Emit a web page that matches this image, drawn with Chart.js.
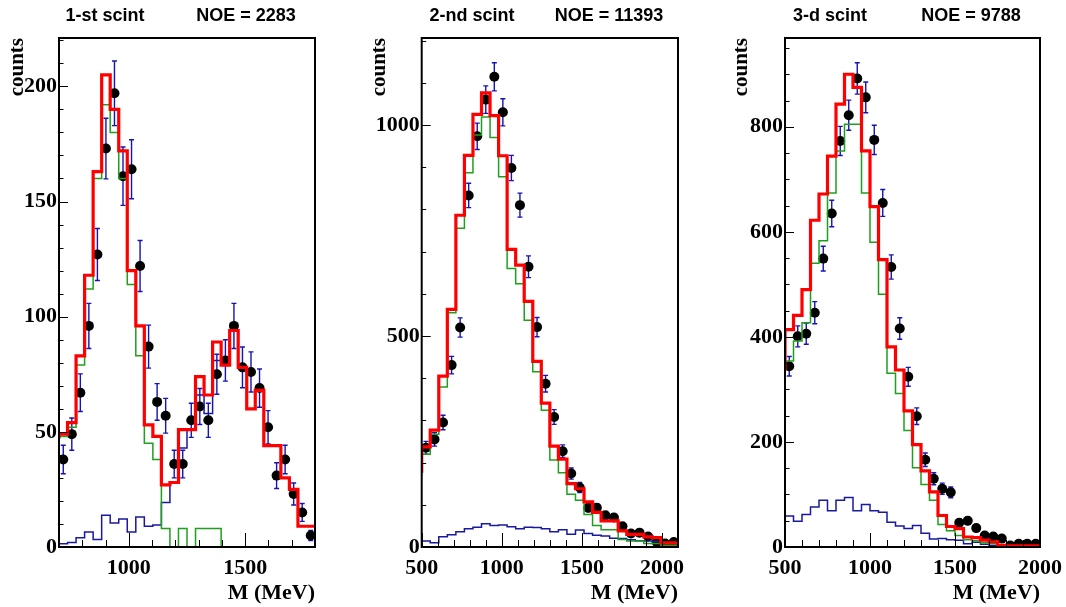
<!DOCTYPE html>
<html>
<head>
<meta charset="utf-8">
<script src="https://cdn.jsdelivr.net/npm/chart.js@4.4.0/dist/chart.umd.min.js"></script>
<style>
  body { margin: 0; background: #fff; }
  #wrap { position: relative; width: 1066px; height: 607px; overflow: hidden; }
  canvas { position: absolute; top: 0; }
  .ttl { position: absolute; top: 6px; font: bold 18px "Liberation Sans", Arial, sans-serif;
         line-height: 18px; white-space: nowrap; transform: translateX(-50%); color: #000; }
</style>
</head>
<body>
<div id="wrap">
  <canvas id="c1" width="355" height="607" style="left:0px"></canvas>
  <canvas id="c2" width="355" height="607" style="left:355px"></canvas>
  <canvas id="c3" width="356" height="607" style="left:710px"></canvas>
  <div class="ttl" style="left:105px">1-st scint</div>
  <div class="ttl" style="left:246px">NOE = 2283</div>
  <div class="ttl" style="left:472px">2-nd scint</div>
  <div class="ttl" style="left:609px">NOE = 11393</div>
  <div class="ttl" style="left:830px">3-d scint</div>
  <div class="ttl" style="left:971px">NOE = 9788</div>
</div>
<script>
// ---- panel 1 : 1-st scint, 30 bins 700..1800 MeV
var p1Range  = [700, 1800];
var p1YMax   = 221;
var p1Data   = [38, 49, 67, 96, 127, 173, 197, 161, 164, 122, 87, 63, 57, 36, 36,
                55, 61, 55, 75, 81, 96, 78, 76, 69, 52, 31, 38, 23, 15, 5];
var p1Total  = [47, 49, 54, 83, 118, 163, 205, 190, 172, 120, 96, 53, 48, 27, 28,
                51, 51, 74, 66, 89, 79, 94, 78, 60, 68, 44, 44, 30, 25, 9];
var p1Signal = [45, 48, 52, 79, 112, 160, 192, 180, 160, 114, 83, 45, 38, 8, 0,
                8, 0, 8, 8, 8, 0, 0, 0, 0, 0, 0, 0, 0, 0, 0];
var p1Backgr = [2, 1.4, 2, 4, 6.5, 3.3, 13.8, 10.4, 12.2, 6.5, 13, 9, 9.6, 19.3, 28,
                43, 51, 66, 58, 81, 79, 94, 78, 60, 68, 44, 44, 30, 25, 9];
var p1XTicks = [1000, 1500];
var p1YTicks = [0, 50, 100, 150, 200];

// ---- panel 2 : 2-nd scint, 30 bins 500..2100 MeV
var p2Range  = [500, 2100];
var p2YMax   = 1206;
var p2Data   = [235, 255, 295, 431, 520, 833, 973, 1060, 1114, 1030, 898, 810, 664, 521, 387,
                308, 227, 174, 141, 93, 93, 75, 70, 49, 32, 34, 25, 12, 8, 12];
var p2Total  = [176, 237, 277, 405, 563, 786, 928, 1025, 1076, 1022, 927, 705, 668, 582, 440,
                341, 239, 208, 150, 138, 107, 82, 62, 62, 38, 30, 30, 24, 22, 10];
var p2Signal = [168, 220, 267, 379, 555, 755, 887, 976, 1019, 970, 877, 660, 624, 537, 415,
                324, 206, 176, 125, 111, 77, 51, 41, 41, 18, 14, 14, 8, 8, 4];
var p2Backgr = [8, 14, 10, 24, 29, 36, 43, 47, 55, 51, 52, 48, 43, 47, 46,
                43, 36, 41, 30, 40, 32, 28, 26, 21, 20, 17, 15, 14, 13, 8];
var p2XTicks = [500, 1000, 1500, 2000];
var p2YTicks = [0, 500, 1000];

// ---- panel 3 : 3-d scint, 30 bins 500..2000 MeV
var p3Range  = [500, 2000];
var p3YMax   = 969;
var p3Data   = [344, 401, 406, 446, 549, 635, 773, 822, 892, 856, 775, 655, 533, 416, 324,
                249, 166, 130, 111, 104, 46, 50, 36, 22, 20, 16, 3, 6, 6, 6];
var p3Total  = [335, 414, 441, 490, 622, 672, 744, 843, 900, 875, 754, 648, 547, 381, 337,
                259, 195, 145, 105, 60, 39, 35, 19, 18, 13, 10, 3, 2, 2, 2];
var p3Signal = [278, 354, 392, 427, 540, 583, 674, 754, 805, 805, 674, 580, 481, 331, 292,
                222, 151, 119, 89, 43, 31, 22, 14, 12, 8, 6, 2, 1, 1, 1];
var p3Backgr = [56, 59, 49, 62, 76, 89, 69, 89, 94, 69, 81, 69, 66, 47, 40,
                35, 41, 26, 15, 16, 14, 13, 6, 9, 5, 3, 1, 1, 0, 0];
var p3XTicks = [500, 1000, 1500, 2000];
var p3YTicks = [0, 200, 400, 600, 800];

var SERIF = '"Liberation Serif", "Times New Roman", serif';

// histogram outline: one point per bin edge, drawn as steps
function steps(range, vals) {
  var w = (range[1] - range[0]) / vals.length;
  var pts = vals.map(function(v, i) { return {x: range[0] + i * w, y: v}; });
  pts.push({x: range[1], y: vals[vals.length - 1]});
  return pts;
}
function centers(range, vals) {
  var w = (range[1] - range[0]) / vals.length;
  return vals.map(function(v, i) { return {x: range[0] + (i + 0.5) * w, y: v}; });
}

// error bars (sqrt N) under the points, ROOT style frame + inward ticks on top
var rootFrame = {
  id: 'rootFrame',
  beforeDatasetsDraw: function(chart) {
    var ctx = chart.ctx, xs = chart.scales.x, ys = chart.scales.y;
    var pts = chart.data.datasets[3].data;
    ctx.save();
    ctx.strokeStyle = '#1414b4';
    ctx.lineWidth = 1.4;
    pts.forEach(function(p) {
      var e = Math.sqrt(p.y);
      var px = xs.getPixelForValue(p.x);
      var y1 = ys.getPixelForValue(p.y - e), y2 = ys.getPixelForValue(p.y + e);
      ctx.beginPath();
      ctx.moveTo(px, y1); ctx.lineTo(px, y2);
      ctx.moveTo(px - 2.5, y1); ctx.lineTo(px + 2.5, y1);
      ctx.moveTo(px - 2.5, y2); ctx.lineTo(px + 2.5, y2);
      ctx.stroke();
    });
    ctx.restore();
  },
  afterDraw: function(chart, args, opts) {
    var ctx = chart.ctx, a = chart.chartArea;
    var xs = chart.scales.x, ys = chart.scales.y;
    ctx.save();
    ctx.strokeStyle = '#000';
    ctx.lineWidth = 1;
    ctx.beginPath();
    var k, v, p;
    for (k = Math.ceil(xs.min / opts.xMinor); k * opts.xMinor <= xs.max; k++) {
      v = k * opts.xMinor;
      p = Math.round(xs.getPixelForValue(v)) + 0.5;
      ctx.moveTo(p, a.bottom);
      ctx.lineTo(p, a.bottom - (opts.xMajor.indexOf(v) >= 0 ? 14 : 7));
    }
    for (k = 0; k * opts.yMinor <= ys.max; k++) {
      v = k * opts.yMinor;
      p = Math.round(ys.getPixelForValue(v)) + 0.5;
      ctx.moveTo(a.left, p);
      ctx.lineTo(a.left + (opts.yMajor.indexOf(v) >= 0 ? 9 : 4.5), p);
    }
    ctx.stroke();
    ctx.lineWidth = 2;
    ctx.strokeRect(a.left, a.top, a.right - a.left, a.bottom - a.top);
    ctx.restore();
  }
};

function plain(v) { return String(v); }

function makePanel(id, range, yMax, data, total, signal, backgr, xTicks, yTicks, yMinor, axisW, rightPad, titlePad) {
  return new Chart(document.getElementById(id), {
    data: {
      datasets: [
        {type: 'line', data: steps(range, total), stepped: 'after', borderColor: '#ff0000',
         borderWidth: 3.2, pointRadius: 0, fill: false, order: 0},
        {type: 'line', data: steps(range, signal), stepped: 'after', borderColor: '#1ea01e',
         borderWidth: 1.5, pointRadius: 0, fill: false, order: 1},
        {type: 'line', data: steps(range, backgr), stepped: 'after', borderColor: '#1818a0',
         borderWidth: 1.5, pointRadius: 0, fill: false, order: 2},
        {type: 'scatter', data: centers(range, data), pointRadius: 5, pointBackgroundColor: '#000',
         pointBorderWidth: 0, order: 3}
      ]
    },
    options: {
      responsive: false,
      animation: false,
      events: [],
      layout: {padding: {left: 0, top: 38, right: rightPad, bottom: 0}},
      plugins: {
        legend: {display: false},
        tooltip: {enabled: false},
        rootFrame: {xMinor: 100, xMajor: xTicks, yMinor: yMinor, yMajor: yTicks}
      },
      scales: {
        x: {
          type: 'linear', position: 'bottom', min: range[0], max: range[1],
          grid: {display: false, drawTicks: false}, border: {display: false},
          afterBuildTicks: function(s) { s.ticks = xTicks.map(function(v) { return {value: v}; }); },
          afterFit: function(s) { s.height = 60; s.paddingLeft = 0; s.paddingRight = 0; },
          ticks: {autoSkip: false, maxRotation: 0, padding: 8, color: '#000', callback: plain,
                  font: {family: SERIF, size: 22, weight: 'bold'}},
          title: {display: true, text: 'M (MeV)', align: 'end', color: '#000',
                  font: {family: SERIF, size: 22, weight: 'bold', lineHeight: 1},
                  padding: {top: 0, bottom: 2.5}}
        },
        y: {
          type: 'linear', position: 'left', min: 0, max: yMax,
          grid: {display: false, drawTicks: false}, border: {display: false},
          afterBuildTicks: function(s) { s.ticks = yTicks.map(function(v) { return {value: v}; }); },
          afterFit: function(s) { s.width = axisW; s.paddingTop = 0; s.paddingBottom = 0; },
          ticks: {autoSkip: false, padding: 2, color: '#000', callback: plain,
                  font: {family: SERIF, size: 22, weight: 'bold'}},
          title: {display: true, text: 'counts', align: 'end', color: '#000',
                  font: {family: SERIF, size: 21, weight: 'bold', lineHeight: 1},
                  padding: {top: titlePad, bottom: 0}}
        }
      }
    },
    plugins: [rootFrame]
  });
}

makePanel('c1', p1Range, p1YMax, p1Data, p1Total, p1Signal, p1Backgr, p1XTicks, p1YTicks, 10, 59, 40, 7.4);
makePanel('c2', p2Range, p2YMax, p2Data, p2Total, p2Signal, p2Backgr, p2XTicks, p2YTicks, 100, 66.7, 32, 13.9);
makePanel('c3', p3Range, p3YMax, p3Data, p3Total, p3Signal, p3Backgr, p3XTicks, p3YTicks, 50, 75, 26, 21.5);
</script>
</body>
</html>
